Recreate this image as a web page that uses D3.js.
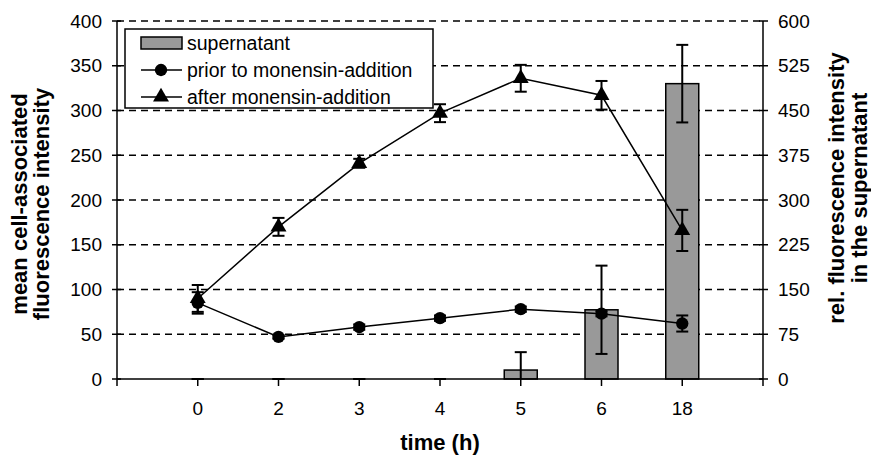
<!DOCTYPE html>
<html>
<head>
<meta charset="utf-8">
<script src="https://cdn.jsdelivr.net/npm/d3@7"></script>
<style>
  body { margin: 0; background: #fff; }
  svg { font-family: "Liberation Sans", Arial, sans-serif; }
</style>
</head>
<body>
<svg width="871" height="455"></svg>
<script>
// Data
var times = ["0", "2", "3", "4", "5", "6", "18"];
var supernatant = [0, 0, 0, 0, 15, 116, 495];
var supernatantErr = [0, 0, 0, 0, 30, 74, 65];
var prior = [85, 47, 58, 68, 78, 73, 62];
var priorErr = [12, 2, 3, 3, 3, 3, 9];
var after = [90, 170, 241, 297, 336, 317, 166];
var afterErr = [15, 10, 5, 10, 15, 16, 23];
var leftTicks = [0, 50, 100, 150, 200, 250, 300, 350, 400];
var rightTicks = [0, 75, 150, 225, 300, 375, 450, 525, 600];

var svg = d3.select("svg"),
    pLeft = 117, pRight = 763, pTop = 21, pBottom = 379;

var x = d3.scalePoint().domain(times).range([pLeft, pRight]).padding(1);
var yL = d3.scaleLinear().domain([0, 400]).range([pBottom, pTop]);
var yR = d3.scaleLinear().domain([0, 600]).range([pBottom, pTop]);

// Gridlines
svg.append("g")
    .selectAll("line")
    .data(leftTicks.slice(1))
    .join("line")
        .attr("x1", pLeft).attr("x2", pRight)
        .attr("y1", d => yL(d)).attr("y2", d => yL(d))
        .attr("stroke", "#000")
        .attr("stroke-width", 1.5)
        .attr("stroke-dasharray", "7,5");

// Bars (right axis)
var barW = 33;
svg.append("g")
    .selectAll("rect")
    .data(times)
    .join("rect")
        .attr("x", d => x(d) - barW / 2)
        .attr("width", barW)
        .attr("y", (d, i) => yR(supernatant[i]))
        .attr("height", (d, i) => pBottom - yR(supernatant[i]))
        .attr("fill", "#999999")
        .attr("stroke", "#000")
        .attr("stroke-width", 1.5);

function errorBars(vals, errs, scale) {
    var g = svg.append("g").attr("stroke", "#000").attr("stroke-width", 2);
    times.forEach(function(t, i) {
        var cx = x(t);
        var hi = scale(vals[i] + errs[i]);
        var loV = vals[i] - errs[i];
        var lo = scale(Math.max(loV, 0));
        g.append("line").attr("x1", cx).attr("x2", cx).attr("y1", hi).attr("y2", lo);
        g.append("line").attr("x1", cx - 6).attr("x2", cx + 6).attr("y1", hi).attr("y2", hi);
        if (loV >= 0)
            g.append("line").attr("x1", cx - 6).attr("x2", cx + 6).attr("y1", lo).attr("y2", lo);
    });
}

errorBars(supernatant, supernatantErr, yR);

// Lines
var line = d3.line().x((d, i) => x(times[i])).y(d => yL(d));
svg.append("path").datum(prior)
    .attr("d", line).attr("fill", "none").attr("stroke", "#000").attr("stroke-width", 1.5);
svg.append("path").datum(after)
    .attr("d", line).attr("fill", "none").attr("stroke", "#000").attr("stroke-width", 1.5);

errorBars(prior, priorErr, yL);
errorBars(after, afterErr, yL);

var circleSym = d3.symbol().type(d3.symbolCircle).size(120);
var triSym = d3.symbol().type(d3.symbolTriangle).size(110);

svg.append("g").selectAll("path")
    .data(prior)
    .join("path")
        .attr("d", circleSym)
        .attr("transform", (d, i) => `translate(${x(times[i])},${yL(d)})`)
        .attr("fill", "#000");

svg.append("g").selectAll("path")
    .data(after)
    .join("path")
        .attr("d", triSym)
        .attr("transform", (d, i) => `translate(${x(times[i])},${yL(d)})`)
        .attr("fill", "#000");

// Axes
var axisG = svg.append("g").attr("stroke", "#000").attr("stroke-width", 1.5);
axisG.append("line").attr("x1", pLeft).attr("x2", pLeft).attr("y1", pTop).attr("y2", pBottom);
axisG.append("line").attr("x1", pRight).attr("x2", pRight).attr("y1", pTop).attr("y2", pBottom);
axisG.append("line").attr("x1", pLeft).attr("x2", pRight).attr("y1", pBottom).attr("y2", pBottom);

axisG.selectAll(".lt").data(leftTicks).join("line")
    .attr("x1", pLeft - 5).attr("x2", pLeft + 4)
    .attr("y1", d => yL(d)).attr("y2", d => yL(d));
axisG.selectAll(".rt").data(rightTicks).join("line")
    .attr("x1", pRight - 4).attr("x2", pRight + 5)
    .attr("y1", d => yR(d)).attr("y2", d => yR(d));

var xTickPos = [pLeft].concat(times.map(t => x(t))).concat([pRight]);
axisG.selectAll(".xt").data(xTickPos).join("line")
    .attr("x1", d => d).attr("x2", d => d)
    .attr("y1", pBottom).attr("y2", pBottom + 7);

var fs = 19;
svg.append("g").selectAll("text")
    .data(leftTicks).join("text")
        .attr("x", pLeft - 15)
        .attr("y", d => yL(d))
        .attr("dy", "0.35em")
        .attr("text-anchor", "end")
        .attr("font-size", fs)
        .text(d => d);

svg.append("g").selectAll("text")
    .data(rightTicks).join("text")
        .attr("x", pRight + 15)
        .attr("y", d => yR(d))
        .attr("dy", "0.35em")
        .attr("font-size", fs)
        .text(d => d);

svg.append("g").selectAll("text")
    .data(times).join("text")
        .attr("x", d => x(d))
        .attr("y", 415)
        .attr("text-anchor", "middle")
        .attr("font-size", fs)
        .text(d => d);

// Axis titles
svg.append("text")
    .attr("x", (pLeft + pRight) / 2).attr("y", 450)
    .attr("text-anchor", "middle")
    .attr("font-size", 22).attr("font-weight", "bold")
    .text("time (h)");

var lt = svg.append("text")
    .attr("transform", "translate(27,204) rotate(-90)")
    .attr("text-anchor", "middle")
    .attr("font-size", 22).attr("font-weight", "bold");
lt.append("tspan").attr("x", 0).attr("y", 0).text("mean cell-associated");
lt.append("tspan").attr("x", 0).attr("y", 22).text("fluorescence intensity");

var rt = svg.append("text")
    .attr("transform", "translate(844,188) rotate(-90)")
    .attr("text-anchor", "middle")
    .attr("font-size", 22).attr("font-weight", "bold");
rt.append("tspan").attr("x", 0).attr("y", 0).text("rel. fluorescence intensity");
rt.append("tspan").attr("x", 0).attr("y", 23).text("in the supernatant");

// Legend
var leg = svg.append("g");
leg.append("rect")
    .attr("x", 125).attr("y", 29).attr("width", 308).attr("height", 79)
    .attr("fill", "#fff").attr("stroke", "#000").attr("stroke-width", 1.5);

var legItems = ["supernatant", "prior to monensin-addition", "after monensin-addition"];
var legY = [43, 70, 97];

leg.append("rect")
    .attr("x", 141).attr("y", legY[0] - 6).attr("width", 41).attr("height", 12)
    .attr("fill", "#999999").attr("stroke", "#000").attr("stroke-width", 1.5);
[1, 2].forEach(function(k) {
    leg.append("line")
        .attr("x1", 141).attr("x2", 182)
        .attr("y1", legY[k]).attr("y2", legY[k])
        .attr("stroke", "#000").attr("stroke-width", 1.5);
});
leg.append("path").attr("d", circleSym).attr("transform", `translate(161,${legY[1]})`);
leg.append("path").attr("d", triSym).attr("transform", `translate(161,${legY[2]})`);

leg.selectAll("text")
    .data(legItems).join("text")
        .attr("x", 187)
        .attr("y", (d, i) => legY[i])
        .attr("dy", "0.35em")
        .attr("font-size", 19.5)
        .text(d => d);
</script>
</body>
</html>
